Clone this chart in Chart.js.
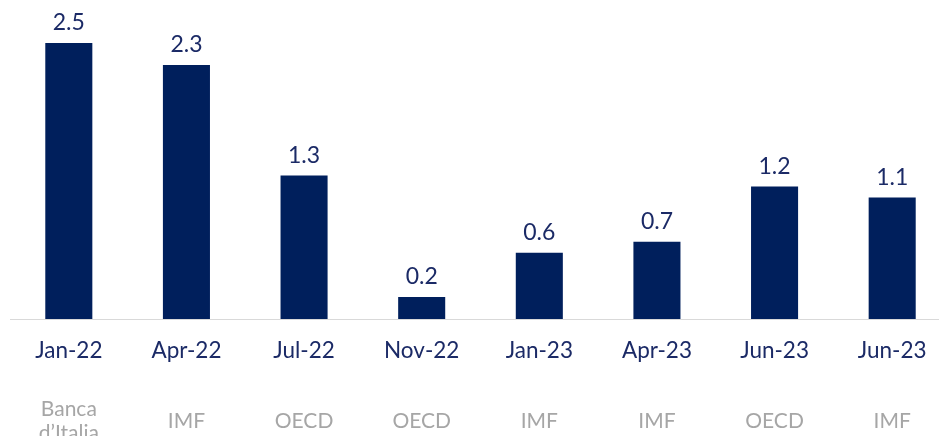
<!DOCTYPE html>
<html>
<head>
<meta charset="utf-8">
<script src="https://cdn.jsdelivr.net/npm/chart.js@4/dist/chart.umd.min.js"></script>
<style>
  html, body { margin: 0; padding: 0; background: #ffffff; overflow: hidden; width: 939px; height: 436px; }
  #wrap { width: 951px; height: 436px; }
</style>
</head>
<body>
<div id="wrap"><canvas id="c" width="951" height="436"></canvas></div>
<script>
const categories = ["Jan-22", "Apr-22", "Jul-22", "Nov-22", "Jan-23", "Apr-23", "Jun-23", "Jun-23"];
const sources = [["Banca", "d\u2019Italia"], ["IMF"], ["OECD"], ["OECD"], ["IMF"], ["IMF"], ["OECD"], ["IMF"]];
const values = [2.5, 2.3, 1.3, 0.2, 0.6, 0.7, 1.2, 1.1];

const NAVY = "#001f5c";
const TEXT_NAVY = "#1b2a66";
const GREY = "#a6a6a6";
const FONT = "Lato";

const valueLabels = {
  id: "valueLabels",
  afterDatasetsDraw(chart) {
    const ctx = chart.ctx;
    const meta = chart.getDatasetMeta(0);
    ctx.save();
    ctx.font = "23px " + FONT;
    ctx.fillStyle = TEXT_NAVY;
    ctx.textAlign = "center";
    ctx.textBaseline = "alphabetic";
    meta.data.forEach((bar, i) => {
      ctx.fillText(values[i].toFixed(1), bar.x, bar.y - 13);
    });
    ctx.restore();
  }
};

const sourceLabels = {
  id: "sourceLabels",
  afterDraw(chart) {
    const ctx = chart.ctx;
    const xs = chart.scales.x;
    ctx.save();
    ctx.font = "21px " + FONT;
    ctx.fillStyle = GREY;
    ctx.textAlign = "center";
    ctx.textBaseline = "alphabetic";
    const lineH = 24;
    const centerBase = 428;
    sources.forEach((lines, i) => {
      const x = xs.getPixelForValue(i);
      const first = centerBase - (lines.length - 1) * lineH / 2;
      lines.forEach((t, j) => ctx.fillText(t, x, first + j * lineH));
    });
    ctx.restore();
  }
};

new Chart(document.getElementById("c"), {
  type: "bar",
  data: {
    labels: categories,
    datasets: [{
      data: values,
      backgroundColor: NAVY,
      borderWidth: 0,
      barPercentage: 1,
      categoryPercentage: 0.4
    }]
  },
  options: {
    responsive: false,
    animation: false,
    layout: { padding: { left: 10, right: 0, top: 0, bottom: 54 } },
    plugins: { legend: { display: false }, tooltip: { enabled: false } },
    scales: {
      x: {
        grid: { display: false, drawTicks: false, tickLength: 0 },
        border: { display: true, color: "#d9d9d9", width: 1 },
        ticks: {
          color: TEXT_NAVY,
          font: { family: FONT, size: 22.5 },
          padding: 18,
          maxRotation: 0,
          autoSkip: false
        }
      },
      y: {
        display: false,
        min: 0,
        max: 2.89
      }
    }
  },
  plugins: [valueLabels, sourceLabels]
});
</script>
</body>
</html>
